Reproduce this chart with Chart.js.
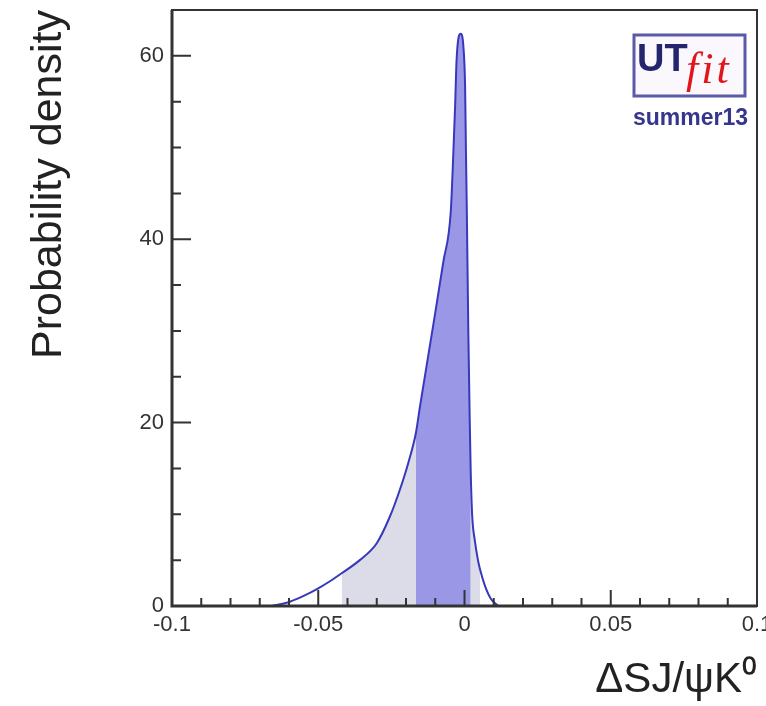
<!DOCTYPE html>
<html>
<head>
<meta charset="utf-8">
<script src="https://cdn.jsdelivr.net/npm/chart.js@4.4.1/dist/chart.umd.min.js"></script>
<style>
  html, body { margin: 0; padding: 0; background: #fff; }
  #wrap { width: 766px; height: 706px; position: relative; }
</style>
</head>
<body>
<div id="wrap"><canvas id="myChart"></canvas></div>
<script>
// posterior density
const xVals = [-0.066, -0.0597, -0.055, -0.050, -0.046, -0.042, -0.0357, -0.030, -0.0255, -0.0221,
  -0.0192, -0.0166, -0.0152, -0.0107, -0.0072, -0.0047, -0.0038, -0.0032, -0.0027, -0.0013,
  -0.0004, 0.0002, 0.0005, 0.0008, 0.0013, 0.0018, 0.0021, 0.0026, 0.0035, 0.0046,
  0.0053, 0.0070, 0.0090, 0.0115];
const density = [0, 0.47, 1.1, 1.93, 2.7, 3.57, 5.03, 6.85, 9.76, 12.68,
  15.63, 18.9, 21.8, 30.6, 37.6, 43.0, 49.5, 54.6, 59.6, 62.4,
  61.1, 56.7, 49.5, 42.9, 30, 20, 15, 10, 7.2, 5.0,
  4.0, 2.2, 0.8, 0];

const band95 = [-0.042, 0.0053];
const band68 = [-0.0166, 0.0021];

const xTicks = [-0.1, -0.05, 0, 0.05, 0.1];
const yTicks = [0, 20, 40, 60];
const xMinorStep = 0.01;
const yMinorStep = 5;

const points = xVals.map((x, i) => ({ x: x, y: density[i] }));
const inBand = (b) => points.filter(p => p.x >= b[0] - 1e-9 && p.x <= b[1] + 1e-9);

// frame + inward ticks, ROOT style
const frameTicks = {
  id: "frameTicks",
  afterDatasetsDraw(chart) {
    const { ctx, chartArea: a, scales } = chart;
    const xs = scales.x, ys = scales.y;
    ctx.save();
    ctx.strokeStyle = "#333";
    ctx.lineWidth = 2;
    ctx.strokeRect(a.left, a.top, a.right - a.left, a.bottom - a.top);
    // heavier left and bottom edge
    ctx.lineWidth = 3;
    ctx.beginPath();
    ctx.moveTo(a.left, a.top);
    ctx.lineTo(a.left, a.bottom);
    ctx.lineTo(a.right, a.bottom);
    ctx.stroke();

    ctx.lineWidth = 2;
    ctx.beginPath();
    for (let k = Math.round(xs.min / xMinorStep); k <= Math.round(xs.max / xMinorStep); k++) {
      const v = k * xMinorStep;
      const major = xTicks.some(t => Math.abs(t - v) < 1e-9);
      const px = xs.getPixelForValue(v);
      ctx.moveTo(px, a.bottom);
      ctx.lineTo(px, a.bottom - (major ? 16 : 8));
    }
    for (let k = 0; k * yMinorStep <= ys.max; k++) {
      const v = k * yMinorStep;
      const major = yTicks.includes(v);
      const py = ys.getPixelForValue(v);
      ctx.moveTo(a.left, py);
      ctx.lineTo(a.left + (major ? 19 : 9), py);
    }
    ctx.stroke();
    ctx.restore();
  }
};

// UTfit logo in the corner
const logo = {
  id: "logo",
  afterDraw(chart) {
    const ctx = chart.ctx;
    ctx.save();
    ctx.fillStyle = "#faf8fd";
    ctx.fillRect(634, 35, 111, 61);
    ctx.strokeStyle = "#5a5aa6";
    ctx.lineWidth = 3;
    ctx.strokeRect(634, 35, 111, 61);

    ctx.textBaseline = "alphabetic";
    ctx.fillStyle = "#25256e";
    ctx.font = "bold 38px 'Liberation Sans', Arial, sans-serif";
    ctx.fillText("UT", 637, 71);

    ctx.fillStyle = "#e0161c";
    ctx.font = "italic 44px 'Liberation Serif', 'DejaVu Serif', serif";
    ctx.letterSpacing = "3px";
    ctx.fillText("fit", 686, 83);
    ctx.letterSpacing = "0px";

    ctx.fillStyle = "#36368e";
    ctx.font = "bold 23px 'Liberation Sans', Arial, sans-serif";
    ctx.textAlign = "right";
    ctx.fillText("summer13", 748, 125);
    ctx.restore();
  }
};

const ctx = document.getElementById("myChart");

new Chart(ctx, {
  type: "line",
  data: {
    datasets: [
      {
        data: points,
        borderColor: "#3838bc",
        borderWidth: 2,
        pointRadius: 0,
        fill: false,
        cubicInterpolationMode: "monotone"
      },
      {
        data: inBand(band68),
        borderWidth: 0,
        pointRadius: 0,
        backgroundColor: "#9a98e6",
        fill: "origin",
        cubicInterpolationMode: "monotone"
      },
      {
        data: inBand(band95),
        borderWidth: 0,
        pointRadius: 0,
        backgroundColor: "#dcdce8",
        fill: "origin",
        cubicInterpolationMode: "monotone"
      }
    ]
  },
  options: {
    responsive: true,
    maintainAspectRatio: false,
    animation: false,
    layout: { padding: { top: 10, right: 9, left: 0, bottom: 0 } },
    plugins: {
      legend: { display: false },
      tooltip: { enabled: false }
    },
    scales: {
      x: {
        type: "linear",
        min: -0.1,
        max: 0.1,
        grid: { display: false, drawTicks: false },
        border: { display: false },
        afterBuildTicks: (s) => { s.ticks = xTicks.map(v => ({ value: v })); },
        afterFit: (s) => { s.height = 100; s.paddingLeft = 0; s.paddingRight = 0; },
        ticks: {
          padding: 6,
          color: "#333",
          font: { size: 22, family: "'Liberation Sans', Arial, sans-serif" },
          maxRotation: 0,
          autoSkip: false,
          callback: (v) => String(+v.toFixed(2))
        },
        title: {
          display: true,
          text: "ΔSJ/ψK⁰",
          align: "end",
          color: "#222",
          padding: { top: 0, bottom: 0 },
          font: { size: 42, family: "'Liberation Sans', Arial, sans-serif" }
        }
      },
      y: {
        min: 0,
        max: 65,
        grid: { display: false, drawTicks: false },
        border: { display: false },
        afterBuildTicks: (s) => { s.ticks = yTicks.map(v => ({ value: v })); },
        afterFit: (s) => { s.width = 172; s.paddingTop = 0; s.paddingBottom = 0; },
        ticks: {
          padding: 8,
          color: "#333",
          font: { size: 22, family: "'Liberation Sans', Arial, sans-serif" }
        },
        title: {
          display: true,
          text: "Probability density",
          align: "end",
          color: "#222",
          padding: { top: 23, bottom: 0 },
          font: { size: 43, family: "'Liberation Sans', Arial, sans-serif" }
        }
      }
    }
  },
  plugins: [frameTicks, logo]
});
</script>
</body>
</html>
